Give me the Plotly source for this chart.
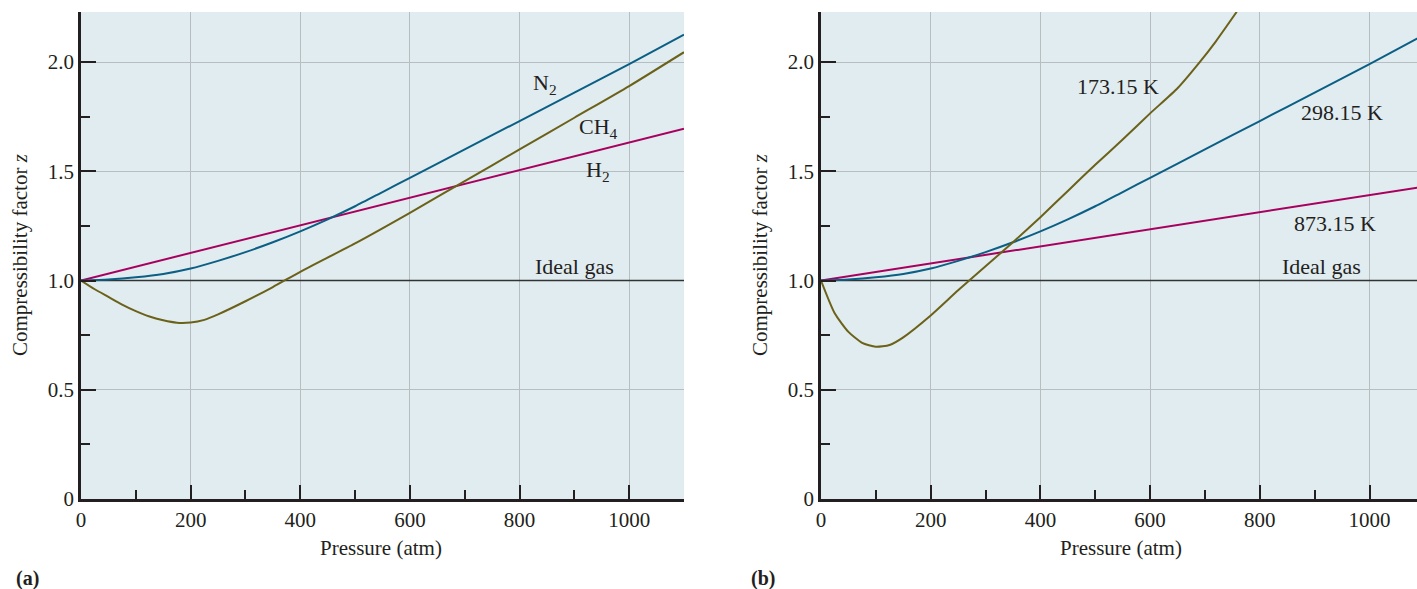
import plotly.graph_objects as go

# ---- data ----
# Panel (a): different gases
p_n2 = [0, 50, 100, 150, 200, 250, 300, 350, 400, 450, 500, 550, 600, 700, 800, 900, 1000, 1100]
z_n2 = [1.0, 1.005, 1.015, 1.03, 1.055, 1.09, 1.13, 1.175, 1.225, 1.28, 1.34, 1.405, 1.47, 1.60, 1.73, 1.86, 1.99, 2.125]

p_ch4 = [0, 25, 50, 75, 100, 125, 150, 175, 200, 225, 250, 300, 350, 400, 500, 600, 700, 800, 900, 1000, 1100]
z_ch4 = [1.0, 0.96, 0.925, 0.89, 0.86, 0.835, 0.818, 0.807, 0.808, 0.82, 0.845, 0.905, 0.97, 1.04, 1.17, 1.31, 1.455, 1.60, 1.745, 1.89, 2.045]

p_h2 = [0, 1100]
z_h2 = [1.0, 1.695]

# Panel (b): N2 at different temperatures
p_173 = [0, 25, 50, 75, 100, 125, 150, 200, 250, 300, 350, 400, 450, 500, 550, 600, 650, 689, 720, 758]
z_173 = [1.0, 0.85, 0.765, 0.715, 0.697, 0.705, 0.74, 0.84, 0.955, 1.065, 1.175, 1.29, 1.41, 1.53, 1.645, 1.765, 1.88, 1.995, 2.095, 2.23]

p_298 = [0, 50, 100, 150, 200, 250, 300, 350, 400, 450, 500, 550, 600, 700, 800, 900, 1000, 1100]
z_298 = [1.0, 1.005, 1.015, 1.03, 1.055, 1.09, 1.13, 1.175, 1.225, 1.28, 1.34, 1.405, 1.47, 1.60, 1.73, 1.86, 1.99, 2.125]

p_873 = [0, 1100]
z_873 = [1.0, 1.43]

p_ideal = [0, 1100]
z_ideal = [1.0, 1.0]

x_ticks = [0, 200, 400, 600, 800, 1000]
y_ticks = [0, 0.5, 1.0, 1.5, 2.0]
y_tick_text = ["0", "0.5", "1.0", "1.5", "2.0"]

# ---- styles ----
BLUE = "#0b5f84"
MAGENTA = "#a8005e"
OLIVE = "#6b6119"
BG = "#e1ecf0"
GRID = "#b7bec2"
FONT = "Liberation Serif"
TXT = "#231f20"

fig = go.Figure()

def line(x, y, color, xa, ya, width=2):
    fig.add_trace(go.Scatter(x=x, y=y, mode="lines",
                             line=dict(color=color, width=width, shape="spline", smoothing=0.6),
                             xaxis=xa, yaxis=ya, showlegend=False, hoverinfo="skip"))

# Panel a
line(p_ideal, z_ideal, "#333333", "x", "y", 1.5)
line(p_h2, z_h2, MAGENTA, "x", "y")
line(p_n2, z_n2, BLUE, "x", "y")
line(p_ch4, z_ch4, OLIVE, "x", "y")
# Panel b
line(p_ideal, z_ideal, "#333333", "x2", "y2", 1.5)
line(p_873, z_873, MAGENTA, "x2", "y2")
line(p_298, z_298, BLUE, "x2", "y2")
line(p_173, z_173, OLIVE, "x2", "y2")

W, H = 1417, 589
y_dom = [90 / H, 577 / H]
TICKSIZE = 21

def xaxis(dom, rng, anchor):
    return dict(domain=dom, range=rng, anchor=anchor, tickvals=x_ticks,
                ticks="inside", ticklen=14, tickwidth=2, tickcolor=TXT,
                showline=True, linecolor=TXT, linewidth=2.5,
                showgrid=True, gridcolor=GRID, gridwidth=1.2, zeroline=False, automargin=False,
                minor=dict(dtick=100, tick0=0, ticks="inside", ticklen=9, tickwidth=2,
                           tickcolor=TXT, showgrid=False),
                tickfont=dict(family=FONT, size=TICKSIZE, color=TXT), fixedrange=True)

def yaxis(anchor):
    return dict(domain=y_dom, range=[0, 2.229], anchor=anchor, tickvals=y_ticks, ticktext=y_tick_text,
                ticks="inside", ticklen=15, tickwidth=2, tickcolor=TXT,
                showline=True, linecolor=TXT, linewidth=2.5,
                showgrid=True, gridcolor=GRID, gridwidth=1.2, zeroline=False, automargin=False,
                minor=dict(dtick=0.25, tick0=0, ticks="inside", ticklen=9, tickwidth=2,
                           tickcolor=TXT, showgrid=False),
                tickfont=dict(family=FONT, size=TICKSIZE, color=TXT), fixedrange=True)

fig.update_layout(
    width=W, height=H, autosize=False,
    margin=dict(l=0, r=0, t=0, b=0, pad=0, autoexpand=False),
    paper_bgcolor="white",
    plot_bgcolor=BG,
    xaxis=xaxis([81 / W, 684 / W], [0, 1100], "y"),
    yaxis=yaxis("x"),
    xaxis2=xaxis([821 / W, 1.0], [0, 1086.6], "y2"),
    yaxis2=yaxis("x2"),
    font=dict(family=FONT, color=TXT),
)

def ann(text, x, y, xref, yref, size=22, **kw):
    fig.add_annotation(text=text, x=x, y=y, xref=xref, yref=yref, showarrow=False,
                       xanchor="center", yanchor="middle",
                       font=dict(family=FONT, size=size, color=TXT), **kw)

# curve labels panel a
ann("N<sub>2</sub>", 846, 1.90, "x", "y")
ann("CH<sub>4</sub>", 944, 1.70, "x", "y")
ann("H<sub>2</sub>", 943, 1.50, "x", "y")
ann("Ideal gas", 900, 1.066, "x", "y")
# curve labels panel b
ann("173.15 K", 541, 1.886, "x2", "y2")
ann("298.15 K", 950, 1.767, "x2", "y2")
ann("873.15 K", 937, 1.263, "x2", "y2")
ann("Ideal gas", 913, 1.066, "x2", "y2")

# axis titles
ann("Pressure (atm)", 381 / W, 1 - 548 / H, "paper", "paper", size=21)
ann("Pressure (atm)", 1121 / W, 1 - 548 / H, "paper", "paper", size=21)
ann("Compressibility factor <i>z</i>", 20 / W, 1 - 255 / H, "paper", "paper", size=21, textangle=-90)
ann("Compressibility factor <i>z</i>", 760 / W, 1 - 255 / H, "paper", "paper", size=21, textangle=-90)
# panel letters
ann("<b>(a)</b>", 27 / W, 1 - 578 / H, "paper", "paper", size=20)
ann("<b>(b)</b>", 763 / W, 1 - 578 / H, "paper", "paper", size=20)

fig.write_html("out.html",
               config={"displayModeBar": False},
               post_script="document.body.style.margin='0';document.body.style.padding='0';"
                           "document.body.style.overflow='hidden';")
